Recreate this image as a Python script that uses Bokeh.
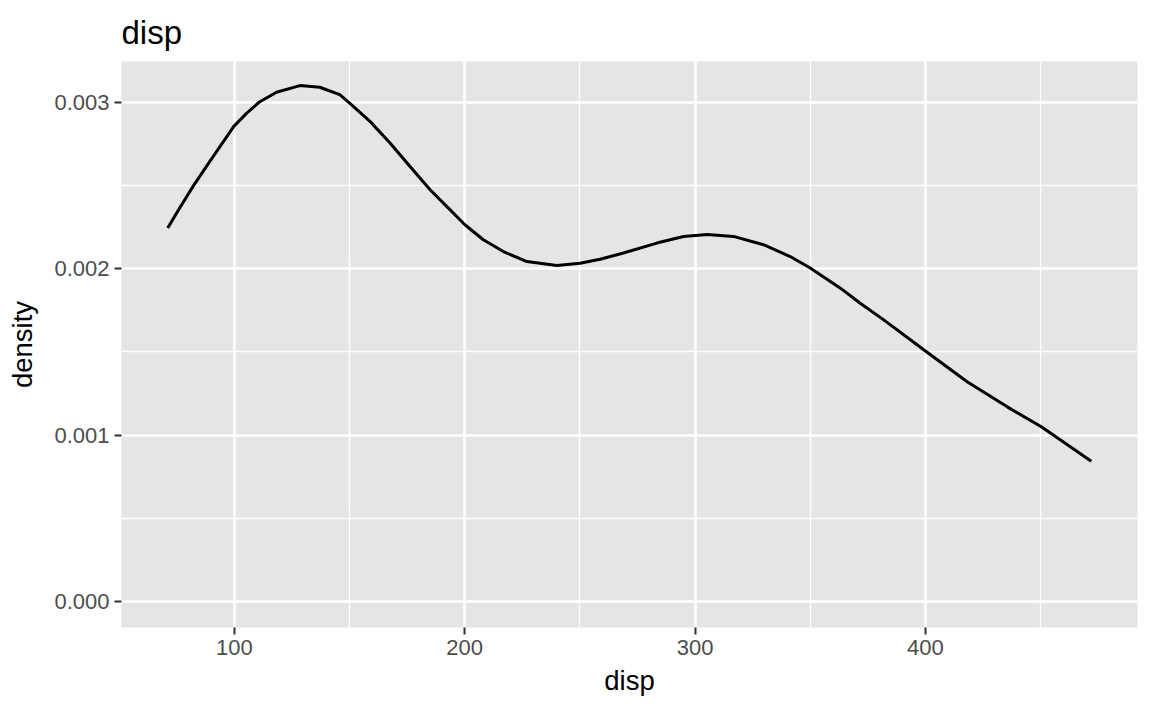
from bokeh.plotting import figure
from bokeh.models import FixedTicker, PrintfTickFormatter, Range1d
from bokeh.embed import file_html
from bokeh.resources import INLINE

# density curve
disp = [71.1, 76.3, 82.1, 89.4, 99.8, 105.3, 111.1, 118.3, 128.5, 137.1, 145.8,
        150.2, 158.9, 167.6, 176.3, 185.0, 193.7, 200.1, 208.1, 216.8, 227.0,
        240.0, 250.1, 258.8, 268.9, 283.4, 295.0, 305.2, 316.7, 329.7, 341.3,
        350.0, 363.1, 371.7, 381.9, 400.0, 418.1, 435.5, 450.3, 472.0]
density = [0.002245, 0.002366, 0.002496, 0.002646, 0.002857, 0.002935, 0.003005,
           0.003062, 0.003102, 0.003092, 0.003048, 0.002995, 0.002887, 0.002757,
           0.002616, 0.002476, 0.002355, 0.002265, 0.002175, 0.002104, 0.002044,
           0.002020, 0.002034, 0.002058, 0.002095, 0.002155, 0.002195, 0.002207,
           0.002195, 0.002145, 0.002074, 0.002005, 0.001884, 0.001793, 0.001693,
           0.001506, 0.001321, 0.001170, 0.001050, 0.000843]

x_ticks = [100, 200, 300, 400]
x_minor = [50, 150, 250, 350, 450]
y_ticks = [0.0, 0.001, 0.002, 0.003]
y_minor = [0.0005, 0.0015, 0.0025]

FONT = "Liberation Sans"

p = figure(frame_width=1016, frame_height=566, output_backend="svg",
           toolbar_location=None, title="disp",
           x_range=Range1d(51.05, 492.05), y_range=Range1d(-0.000157, 0.003247),
           min_border_left=121, min_border_right=7, min_border_top=61,
           min_border_bottom=76)

p.background_fill_color = "#E5E5E5"
p.border_fill_color = "white"
p.outline_line_color = None

p.title.text_font = FONT
p.title.text_font_size = "33px"
p.title.text_font_style = "normal"
p.title.text_color = "black"
p.title.align = "left"
p.title.offset = 0
p.title.standoff = 21

p.xaxis.ticker = FixedTicker(ticks=x_ticks, minor_ticks=x_minor)
p.yaxis.ticker = FixedTicker(ticks=y_ticks, minor_ticks=y_minor)
p.yaxis.formatter = PrintfTickFormatter(format="%.3f")

for ax in (p.xaxis, p.yaxis):
    ax.axis_line_color = None
    ax.major_tick_line_color = "#333333"
    ax.major_tick_line_width = 2
    ax.major_tick_out = 7
    ax.major_tick_in = 0
    ax.minor_tick_line_color = None
    ax.major_label_text_font = FONT
    ax.major_label_text_font_size = "22px"
    ax.major_label_text_color = "#4D4D4D"
    ax.axis_label_text_font = FONT
    ax.axis_label_text_font_size = "27.5px"
    ax.axis_label_text_font_style = "normal"
    ax.axis_label_text_color = "black"
    ax.major_label_standoff = 5

p.xaxis.axis_label = "disp"
p.yaxis.axis_label = "density"
p.xaxis.axis_label_standoff = 7
p.yaxis.axis_label_standoff = 13

for g in (p.xgrid, p.ygrid):
    g.grid_line_color = "white"
    g.grid_line_width = 2.6
    g.minor_grid_line_color = "white"
    g.minor_grid_line_width = 1.3

p.line(disp, density, line_color="black", line_width=3, line_join="round")

open("out.html", "w").write(file_html(p, INLINE))
